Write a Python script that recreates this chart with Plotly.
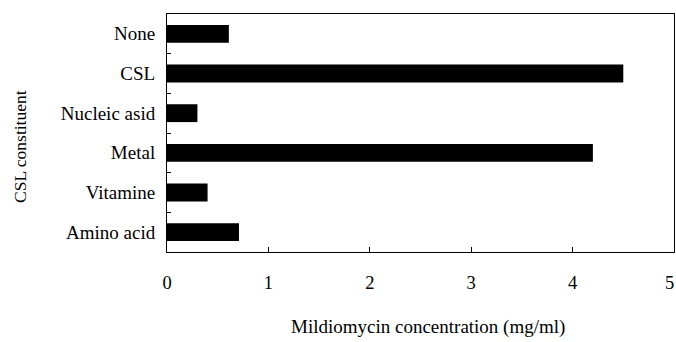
import plotly.graph_objects as go

categories = ["None", "CSL", "Nucleic asid", "Metal", "Vitamine", "Amino acid"]
values = [0.61, 4.5, 0.30, 4.2, 0.40, 0.71]
x_ticks = [0, 1, 2, 3, 4, 5]

FONT = "Liberation Serif"
W, H = 676, 342
L, R, T, B = 167, 2, 14, 90
PW, PH = W - L - R, H - T - B

def px_x(px):
    return (px - L) / PW

def px_y(py):
    return (H - B - py) / PH

fig = go.Figure(go.Bar(
    x=values, y=categories, orientation="h",
    marker=dict(color="black", line=dict(width=0)),
    width=0.45,
))

fig.update_layout(
    width=W, height=H,
    margin=dict(l=L, r=R, t=T, b=B),
    paper_bgcolor="white", plot_bgcolor="white",
    font=dict(family=FONT, size=18, color="black"),
    showlegend=False,
    annotations=[
        dict(text="CSL constituent", textangle=-90, x=px_x(20), y=px_y(147),
             xref="paper", yref="paper", showarrow=False,
             xanchor="center", yanchor="middle",
             font=dict(family=FONT, size=17.5, color="black")),
        dict(text="Mildiomycin concentration (mg/ml)", x=px_x(428), y=px_y(327),
             xref="paper", yref="paper", showarrow=False,
             xanchor="center", yanchor="middle",
             font=dict(family=FONT, size=19, color="black")),
        dict(text=str(x_ticks[-1]), x=x_ticks[-1], xref="x", xshift=2, y=px_y(283),
             yref="paper", showarrow=False, xanchor="right", yanchor="middle",
             font=dict(family=FONT, size=18.5, color="black")),
    ],
)

fig.update_xaxes(
    range=[0, 5], tickvals=x_ticks[:-1], ticktext=[str(t) for t in x_ticks[:-1]],
    ticks="inside", ticklen=5, tickcolor="black",
    showline=True, linecolor="black", linewidth=1, mirror=True,
    showgrid=False, zeroline=False,
    tickfont=dict(family=FONT, size=18.5, color="black"),
    ticklabelstandoff=14,
)
fig.update_yaxes(
    categoryorder="array", categoryarray=categories, autorange="reversed",
    tickson="boundaries", ticks="inside", ticklen=4, tickcolor="black",
    showline=True, linecolor="black", linewidth=1, mirror=True,
    showgrid=False, zeroline=False,
    tickfont=dict(family=FONT, size=19, color="black"),
    ticklabelstandoff=7,
)

fig.write_html("out.html")
